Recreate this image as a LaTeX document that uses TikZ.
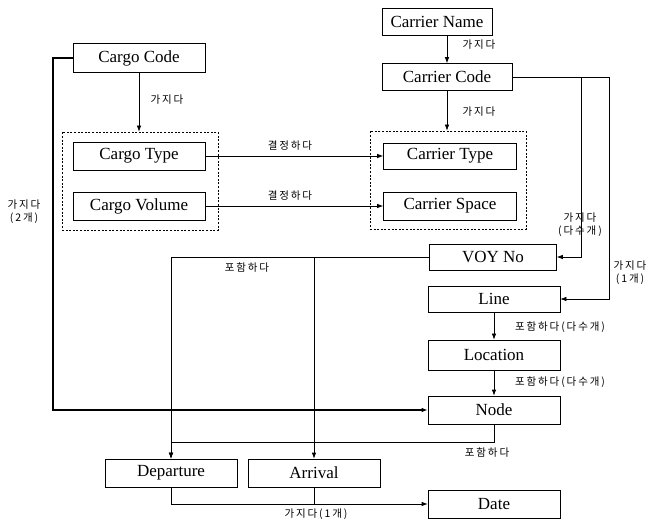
\documentclass[tikz,border=0pt]{standalone}
\usepackage{fontspec}
\setmainfont{Liberation Serif}
\newfontfamily\krfont[LetterSpace=18]{Noto Sans CJK KR}
\usetikzlibrary{positioning}
\usetikzlibrary{arrows.meta}

\tikzset{
  entity/.style={draw=black,line width=0.7pt,minimum width=132pt,minimum height=28pt,inner sep=0pt,font=\fontsize{17}{19}\selectfont},
  group/.style={draw=black,line width=0.7pt,dash pattern=on 2pt off 1.6pt,inner sep=0pt},
  rel/.style={font=\krfont\fontsize{10.5}{13}\selectfont,inner sep=0.5pt},
  link/.style={draw=black,line width=0.7pt,-{Latex[length=6pt,width=4.5pt]}},
}

\begin{document}
\begin{tikzpicture}[x=1pt,y=-1pt]
\useasboundingbox (0,0) rectangle (648,521);

% carrier side
\node[entity,minimum width=110pt,minimum height=27pt] (carriername) at (437,22) {Carrier Name};
\node[entity,minimum width=130pt,minimum height=27pt] (carriercode) at (447,77) {Carrier Code};
\node[group,minimum width=156pt,minimum height=98pt] (carriergroup) at (448,180) {};
\node[entity,minimum width=133pt,minimum height=26pt] (carriertype) at (450,156) {Carrier Type};
\node[entity,minimum width=133pt] (carrierspace) at (450,206) {Carrier Space};

% cargo side
\node[entity,minimum height=29pt] (cargocode) at (139,58) {Cargo Code};
\node[group,minimum width=156pt,minimum height=98pt] (cargogroup) at (140,181) {};
\node[entity] (cargotype) at (139,156) {Cargo Type};
\node[entity] (cargovolume) at (139,206) {Cargo Volume};

% route
\node[entity,minimum width=127pt,minimum height=26pt] (voyno) at (493,257) {VOY No};
\node[entity,minimum height=26pt] (linebox) at (494,299) {Line};
\node[entity,minimum height=30pt] (location) at (494,355) {Location};
\node[entity] (nodebox) at (494,410) {Node};
\node[entity] (departure) at (171,473) {Departure};
\node[entity] (arrival) at (314,473) {Arrival};
\node[entity] (date) at (494,504) {Date};

% connectors
\draw[link] (carriername.south -| carriercode.north) -- (carriercode.north);
\draw[link] (carriercode.south) -- (carriercode.south |- carriergroup.north);
\draw[link] (cargocode.south) -- (cargocode.south |- cargogroup.north);
\draw[link] (cargotype.east) -- (carriertype.west);
\draw[link] (cargovolume.east) -- (carrierspace.west);
\draw[link] (carriercode.east) -- ++(69,0) |- (voyno.east);
\draw[link] (carriercode.east) -- ++(97,0) |- (linebox.east);
\draw[link] (linebox) -- (location);
\draw[link] (location) -- (nodebox);
\draw[link,line width=1.8pt] (cargocode.west) -- ++(-20,0) |- (nodebox.west);
\draw[link] (voyno.west) -| (departure.north);
\coordinate (voysplit) at (voyno.west -| arrival.north);
\draw[link] (voysplit) -- (arrival.north);
\draw[link] (nodebox.south) -- ++(0,18) -| (departure.north);
\draw[link] (departure.south) |- (date.west);
\draw[line width=0.7pt] (arrival.south) -- (arrival.south |- date.west);

% labels
\node[rel] (lblcargo) at (167,100) {가지다};
\node[rel] (lblname) at (479,45) {가지다};
\node[rel] (lblcode) at (479,112) {가지다};
\node[rel] (lbltype) at (290,146) {결정하다};
\node[rel] (lblspace) at (290,196) {결정하다};
\node[rel,align=center] (lblvoy) at (580,225) {가지다\\(다수개)};
\node[rel,align=center] (lblline) at (630,273) {가지다\\(1개)};
\node[rel] (lblvoyout) at (247,268) {포함하다};
\node[rel] (lbllocation) at (560,327) {포함하다(다수개)};
\node[rel] (lblnode) at (560,382) {포함하다(다수개)};
\node[rel] (lblnodeout) at (487,453) {포함하다};
\node[rel] (lbldate) at (316,514) {가지다(1개)};
\node[rel,align=center] (lblthick) at (24,212) {가지다\\(2개)};

\end{tikzpicture}
\end{document}
